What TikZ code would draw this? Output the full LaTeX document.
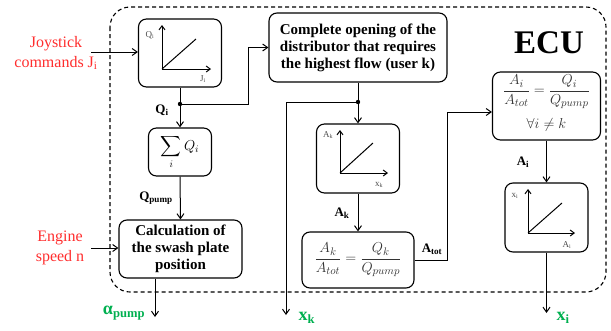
\documentclass[tikz,border=0pt]{standalone}
\usepackage{amsmath}
\usepackage{fontspec}
\setmainfont{Liberation Serif}
\usetikzlibrary{arrows.meta}
\definecolor{lred}{RGB}{255,45,45}
\definecolor{lgreen}{RGB}{0,176,80}
\begin{document}
\begin{tikzpicture}[x=1pt,y=-1pt,
  box/.style={draw, rounded corners=8pt, line width=1.1pt, inner sep=0pt},
  arr/.style={-{Straight Barb[length=5pt,width=7pt]}, line width=1pt},
  ln/.style={line width=1pt},
  btxt/.style={font=\fontsize{15}{17}\selectfont\bfseries, align=center},
  redtxt/.style={text=lred, font=\fontsize{16}{20}\selectfont, align=center},
  grn/.style={text=lgreen, font=\fontsize{18}{20}\selectfont\bfseries},
  sig/.style={font=\fontsize{13}{14}\selectfont\bfseries},
  axl/.style={font=\fontsize{9}{10}\selectfont, text=black!70, inner sep=0pt},
  ax/.style={-{Straight Barb[length=4pt,width=6pt]}, line width=1pt},
  frm/.style={font=\fontsize{15}{17}\selectfont, text=black!80}]
\useasboundingbox (0,0) rectangle (611,330);
% ECU frame
\draw[dash pattern=on 4pt off 3pt, line width=1.1pt, rounded corners=20pt] (110,7) rectangle (606,292);
\node[font=\fontsize{33}{35}\selectfont\bfseries] (ecu) at (549,43) {ECU};
% boxes
\node[box, minimum width=83pt, minimum height=68pt] (b1) at (180,53) {};
\node[box, minimum width=63pt, minimum height=48pt, font=\fontsize{14}{16}\selectfont] (sum) at (180,152) {$\displaystyle\sum_i Q_i$};
\node[box, minimum width=123pt, minimum height=58pt, btxt] (calc) at (180.5,249) {Calculation of\\the swash plate\\position};
\node[box, minimum width=178pt, minimum height=69pt, btxt] (comp) at (358,47.5) {Complete opening of the\\distributor that requires\\the highest flow (user k)};
\node[box, minimum width=83pt, minimum height=69pt] (bk) at (358,158.5) {};
\node[box, minimum width=112pt, minimum height=56pt, frm] (fk) at (358,260) {$\dfrac{A_k}{A_{tot}}=\dfrac{Q_k}{Q_{pump}}$};
\node[box, minimum width=108pt, minimum height=68pt] (f2) at (546.5,106) {};
\node[frm] (f2a) at (546.5,92) {$\dfrac{A_i}{A_{tot}}=\dfrac{Q_i}{Q_{pump}}$};
\node[frm] (f2b) at (546.5,125) {$\forall i\neq k$};
\node[box, minimum width=83pt, minimum height=69pt] (bi) at (546.5,217.5) {};
% graphs
\draw[ax] (162,69) -- (162,25);
\draw[ax] (162,69) -- (211,69);
\draw[ln] (162,69) -- (196,39);
\node[axl] (lq) at (150,35) {Q\textsubscript{i}};
\node[axl] (lj) at (203,79) {J\textsubscript{i}};
\draw[ax] (340,173) -- (340,130);
\draw[ax] (340,173) -- (388,173);
\draw[ln] (340,173) -- (373,143);
\node[axl] (lak) at (328,135) {A\textsubscript{k}};
\node[axl] (lxk) at (379,185) {x\textsubscript{k}};
\draw[ax] (528,233) -- (528,189);
\draw[ax] (528,233) -- (575,233);
\draw[ln] (528,233) -- (562,203);
\node[axl] (lxi) at (515,196) {x\textsubscript{i}};
\node[axl] (lai) at (567,245) {A\textsubscript{i}};
% inputs
\node[redtxt] (joy) at (56,53) {Joystick\\commands J\textsubscript{i}};
\node[redtxt] (eng) at (60,248) {Engine\\speed n};
\coordinate (jin) at (91,52);
\coordinate (ein) at (91,248);
\draw[arr] (jin) -- (jin -| b1.west);
\draw[arr] (ein) -- (ein -| calc.west);
% Q_i
\coordinate (qj) at (180,104);
\coordinate (c1) at (248,104);
\draw[arr] (b1.south) -- (sum.north);
\fill (qj) circle (2.2pt);
\draw[arr] (qj) -- (c1) |- (comp.west);
\node[sig] (lqi) at (162,110) {Q\textsubscript{i}};
% Q_pump
\draw[arr] (sum.south) -- (calc.north);
\node[sig] (lqp) at (156,198) {Q\textsubscript{pump}};
% alpha
\coordinate (aout) at (155,317);
\draw[arr] (calc.south -| aout) -- (aout);
\node[grn] (la) at (124,313) {α\textsubscript{pump}};
% k branch
\coordinate (kj) at (358,102);
\coordinate (xkout) at (286,315);
\draw[arr] (comp.south) -- (bk.north);
\fill (kj) circle (2.2pt);
\draw[arr] (kj) -| (xkout);
\node[grn] (lxkout) at (307,318) {x\textsubscript{k}};
\draw[arr] (bk.south) -- (fk.north);
\node[sig] (lakk) at (342,213) {A\textsubscript{k}};
% A_tot
\coordinate (c2) at (447,112);
\draw[arr] (fk.east) -- (fk.east -| c2) -- (c2) -- (c2 -| f2.west);
\node[sig] (lat) at (432,249) {A\textsubscript{tot}};
% A_i
\draw[arr] (f2.south) -- (bi.north);
\node[sig] (laii) at (523,162) {A\textsubscript{i}};
\coordinate (xiout) at (546.5,313);
\draw[arr] (bi.south) -- (xiout);
\node[grn] (lxiout) at (563,318) {x\textsubscript{i}};
\end{tikzpicture}
\end{document}
